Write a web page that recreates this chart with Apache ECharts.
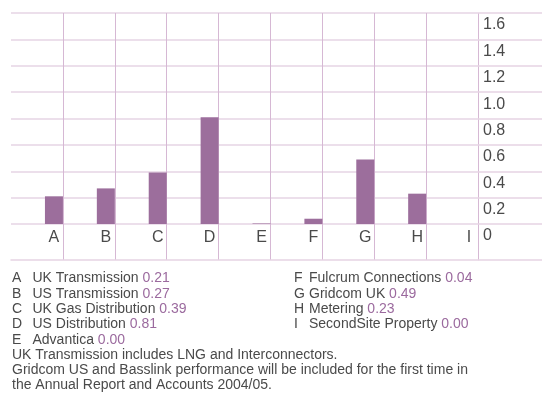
<!DOCTYPE html>
<html>
<head>
<meta charset="utf-8">
<script src="https://cdn.jsdelivr.net/npm/echarts@6/dist/echarts.min.js"></script>
<style>
  html, body { margin: 0; padding: 0; background: #fff; }
  #chart { width: 542px; height: 397px; }
</style>
</head>
<body>
<div id="chart"></div>
<script>
const letters = ['A', 'B', 'C', 'D', 'E', 'F', 'G', 'H', 'I'];
const names = ['UK Transmission', 'US Transmission', 'UK Gas Distribution', 'US Distribution', 'Advantica',
  'Fulcrum Connections', 'Gridcom UK', 'Metering', 'SecondSite Property'];
const values = [0.21, 0.27, 0.39, 0.81, 0.004, 0.04, 0.49, 0.23, 0];
const yTickLabels = ['0', '0.2', '0.4', '0.6', '0.8', '1.0', '1.2', '1.4', '1.6'];
const notes = [
  'UK Transmission includes LNG and Interconnectors.',
  'Gridcom US and Basslink performance will be included for the first time in',
  'the Annual Report and Accounts 2004/05.'
];

const barColor = '#9c6e9c';
const vLine = '#d6b8d4';
const hLine = '#e6d4e4';
const textColor = '#4a4a4a';
const valueColor = '#9b6a9e';
const font = '"Liberation Sans", Arial, sans-serif';

// first split line (left edge) is hidden
const vColors = ['rgba(0,0,0,0)'].concat(letters.map(() => vLine));

const chart = echarts.init(document.getElementById('chart'));

const graphic = [];
letters.forEach((l, i) => {
  const right = i >= 5;
  const row = right ? i - 5 : i;
  const y = 278.5 + row * 15.3;
  graphic.push({
    type: 'text', x: right ? 294 : 12, y: y,
    style: { text: l, fill: textColor, font: '14px ' + font, verticalAlign: 'middle' }
  });
  graphic.push({
    type: 'text', x: right ? 309 : 32.5, y: y,
    style: {
      text: '{n|' + names[i] + '} {v|' + values[i].toFixed(2) + '}',
      font: '14px ' + font, verticalAlign: 'middle',
      rich: {
        n: { fill: textColor, fontSize: 14, fontFamily: font },
        v: { fill: valueColor, fontSize: 14, fontFamily: font }
      }
    }
  });
});
notes.forEach((t, i) => {
  graphic.push({
    type: 'text', x: 12, y: 355 + i * 15.3,
    style: { text: t, fill: textColor, font: '14px ' + font, verticalAlign: 'middle' }
  });
});

chart.setOption({
  animation: false,
  backgroundColor: '#fff',
  grid: [
    { left: 11, right: 64, top: 13, bottom: 173 },
    { left: 11, right: 64, top: 224, bottom: 137 }
  ],
  xAxis: [
    {
      type: 'category', gridIndex: 0, data: letters,
      axisLine: { show: false }, axisTick: { show: false }, axisLabel: { show: false },
      splitLine: { show: true, lineStyle: { color: vColors, width: 1 } }
    },
    {
      type: 'category', gridIndex: 1, data: letters,
      axisLine: { show: true, lineStyle: { color: hLine, width: 1.5 } },
      axisTick: { show: false },
      axisLabel: {
        inside: true, margin: 14, color: textColor, fontSize: 16, fontFamily: font,
        padding: [0, 0, 0, 34]
      },
      splitLine: { show: true, lineStyle: { color: vColors, width: 1 } }
    }
  ],
  yAxis: [
    {
      type: 'value', gridIndex: 0, position: 'right', min: 0, max: 1.6, interval: 0.2,
      axisLine: { show: false },
      axisTick: { show: true, length: 64, lineStyle: { color: hLine, width: 1.5 } },
      splitLine: { show: true, lineStyle: { color: hLine, width: 1.5 } },
      axisLabel: {
        margin: 5, align: 'left', verticalAlign: 'top', padding: [4, 0, 0, 0],
        color: textColor, fontSize: 16, fontFamily: font,
        formatter: v => yTickLabels[Math.round(v / 0.2)]
      }
    },
    {
      type: 'value', gridIndex: 1, position: 'right', min: 0, max: 1, interval: 1,
      axisLine: { show: false },
      axisTick: { show: true, length: 64, lineStyle: { color: hLine, width: 1.5 } },
      splitLine: { show: false },
      axisLabel: { show: false }
    }
  ],
  series: [
    {
      type: 'bar', xAxisIndex: 0, yAxisIndex: 0, barWidth: 34, barGap: 0,
      data: letters.map(() => '-'), silent: true
    },
    {
      type: 'bar', xAxisIndex: 0, yAxisIndex: 0, barWidth: 18, barGap: 0,
      data: values, itemStyle: { color: barColor }
    }
  ],
  graphic: graphic
});
</script>
</body>
</html>
